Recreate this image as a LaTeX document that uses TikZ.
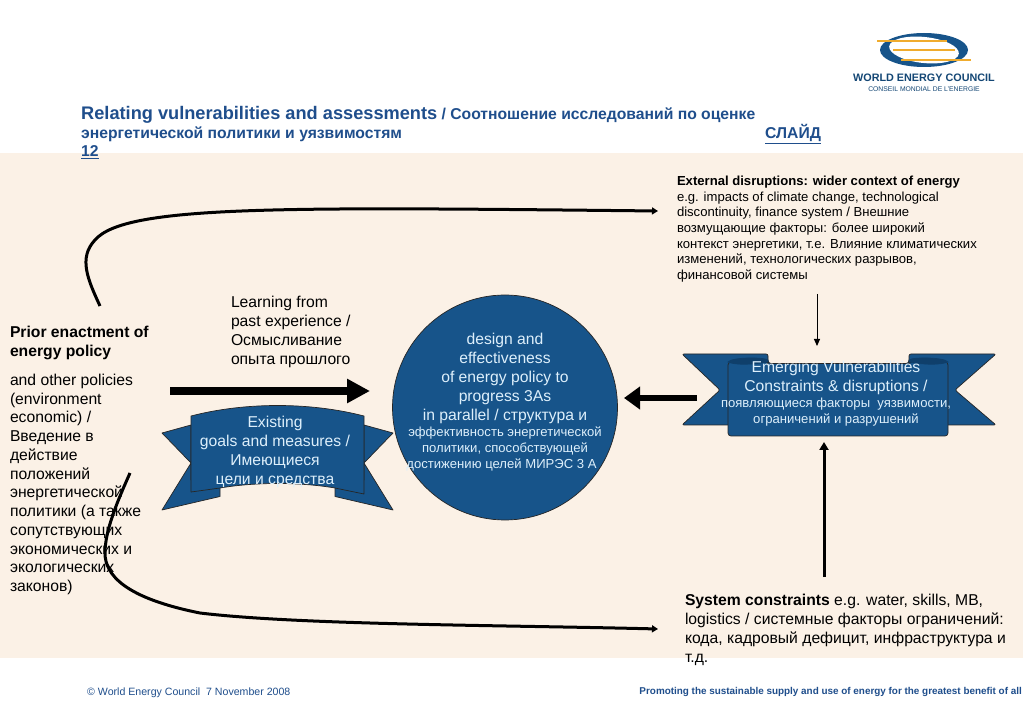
\documentclass[tikz,border=0pt]{standalone}
\usepackage{fontspec}
\setmainfont{Liberation Sans}
\usetikzlibrary{arrows.meta}
\definecolor{band}{HTML}{FBF1E6}
\definecolor{wec}{HTML}{17548A}
\definecolor{wecdark}{HTML}{0F3F6B}
\definecolor{pale}{HTML}{DDEFFB}
\definecolor{titleblue}{HTML}{1F4E8C}
\definecolor{wecorange}{HTML}{F0AC2E}
\tikzset{
  x=1pt,y=-1pt,
  txt/.style={inner sep=0pt,outer sep=0pt,align=left,anchor=north west,text=black},
  ribbontext/.style={inner sep=0pt,align=center,text=pale},
  ribbonpart/.style={draw=black!85,line width=0.7pt,fill=wec,line join=round},
  curl/.style={draw=wecdark,line width=0.7pt,fill=wecdark},
  titletext/.style={inner sep=0pt,anchor=base west,text=titleblue,font=\bfseries},
  curve/.style={line width=3pt,draw=black,-{Triangle[length=6pt,width=7pt]}},
}
\newcommand{\fs}[2]{\fontsize{#1}{#2}\selectfont}
\begin{document}
\begin{tikzpicture}
\useasboundingbox (0,0) rectangle (1023,708);
\fill[white] (0,0) rectangle (1023,708);
\fill[band] (0,153) rectangle (1023,658);

% logo
\fill[wec] (924,50) ellipse [x radius=44,y radius=17];
\fill[white,rotate around={-6:(924,50)}] (924,50) ellipse [x radius=35,y radius=13];
\foreach \ya/\xa/\xb in {41/877/947,50/893/955,60/901/971}
  \draw[wecorange,line width=1.1pt] (\xa,\ya) -- (\xb,\ya);
\node[inner sep=0pt,text=wec!85!black,font=\bfseries\fs{10.8}{12}] (logoa) at (924,77.5) {WORLD ENERGY COUNCIL};
\node[inner sep=0pt,text=wec!85!black,font=\fs{6.8}{8}] (logob) at (924,89) {CONSEIL MONDIAL DE L'ENERGIE};

% title
\node[titletext] (t1) at (81,120) {{\fs{18.2}{20}Relating vulnerabilities and assessments}{\fs{15.7}{18} / Соотношение исследований по оценке}};
\node[titletext] (t2) at (81,139) {\fs{15.7}{18}энергетической политики и уязвимостям};
\node[titletext] (t3) at (765,139) {\fs{15.7}{18}\underline{СЛАЙД}};
\node[titletext] (t4) at (81,157) {\fs{15.7}{18}\underline{12}};

% left text
\node[txt,font=\bfseries\fs{15.7}{19.5}] (prior) at (10,326) {Prior enactment of\\energy policy};
\node[txt,font=\fs{15.7}{18.75}] (other) at (10,374) {and other policies\\(environment\\economic) /\\Введение в\\действие\\положений\\энергетической\\политики (а также\\сопутствующих\\экономических и\\экологических\\законов)};

% learning text
\node[txt,font=\fs{15.7}{19}] (learn) at (231,296) {Learning from\\past experience /\\Осмысливание\\опыта прошлого};

% external text
\node[txt,font=\fs{13.1}{15.7}] (ext) at (677,176) {\textbf{External disruptions: wider context of energy}\\e.g. impacts of climate change, technological\\discontinuity, finance system / Внешние\\возмущающие факторы: более широкий\\контекст энергетики, т.е. Влияние климатических\\изменений, технологических разрывов,\\финансовой системы};

% system text
\node[txt,font=\fs{15.7}{19}] (sys) at (685,594) {\textbf{System constraints} e.g. water, skills, MB,\\logistics / системные факторы ограничений:\\кода, кадровый дефицит, инфраструктура и\\т.д.};

% circle
\node[circle,draw=black!85,line width=0.7pt,fill=wec,minimum size=225pt,inner sep=0pt] (core) at (505,407.5) {};
\node[ribbontext,font=\fs{15.7}{18.9}] (coretext) at (505,402.5) {design and\\effectiveness\\of energy policy to\\progress 3As\\in parallel / структура и\\[-2.5pt]{\fs{13.1}{16.5}эффективность энергетической}\\[-3pt]{\fs{13.1}{16.5}политики, способствующей}\\[-3pt]{\fs{13.1}{16.5}достижению целей МИРЭС 3 А\hspace*{7pt}}};

% left ribbon
\draw[ribbonpart] (191,425) -- (162,433) -- (191,463) -- (162,510) -- (220,496.5) -- (220,480) -- (191,480) -- cycle;
\draw[ribbonpart] (364,425) -- (393,433) -- (364,463) -- (393,510) -- (335,496.5) -- (335,480) -- (364,480) -- cycle;
\draw[ribbonpart] (191,416) .. controls (245,402) and (310,402) .. (364,416) -- (364,494) -- (335,488) .. controls (300,482) and (255,482) .. (220,488) -- (191,492) -- cycle;
\node[ribbontext,font=\fs{15.7}{19}] (existing) at (275,452) {Existing\\goals and measures /\\Имеющиеся\\цели и средства};

% right ribbon
\draw[ribbonpart,rounded corners=2pt] (768,362) -- (768,354) -- (682,354) -- (720,390) -- (682,425) -- (760,425) -- cycle;
\draw[ribbonpart,rounded corners=2pt] (909,362) -- (909,354) -- (996,354) -- (955,390) -- (996,425) -- (920,425) -- cycle;
\draw[ribbonpart,rounded corners=3pt] (728,362) -- (728,436) -- (948,436) -- (948,362) -- (909,362) -- (909,363.5) -- (768,363.5) -- (768,362) -- cycle;
\draw[curl] (728,362) .. controls (732,357) and (764,357) .. (768,360) -- (768,362) .. controls (750,365) and (735,365) .. (728,362) -- cycle;
\draw[curl] (948,362) .. controls (944,357) and (912,357) .. (909,360) -- (909,362) .. controls (925,365) and (940,365) .. (948,362) -- cycle;
\node[ribbontext,font=\fs{15.7}{19}] (emerging) at (836,378) {Emerging Vulnerabilities\\Constraints \& disruptions /};
\node[ribbontext,font=\fs{13.1}{15.5}] (emergingru) at (836,412) {появляющиеся факторы\ \ уязвимости,\\ограничений и разрушений};

% connectors
\coordinate (a1) at (170,391);
\coordinate (a2) at (370,391);
\draw[line width=8pt,-{Triangle[length=23pt,width=23pt]}] (a1) -- (a2);
\coordinate (b1) at (697,398);
\coordinate (b2) at (624,398);
\draw[line width=6pt,-{Triangle[length=16pt,width=22pt]}] (b1) -- (b2);
\coordinate (c1) at (817,294);
\coordinate (c2) at (817,346);
\draw[line width=1pt,-{Triangle[length=7pt,width=6pt]}] (c1) -- (c2);
\coordinate (d1) at (824,577);
\coordinate (d2) at (824,442);
\draw[line width=3pt,-{Triangle[length=8pt,width=9pt]}] (d1) -- (d2);
\coordinate (e1) at (100,306);
\coordinate (e2) at (658,211);
\draw[curve] (e1) .. controls (88,280) and (78,258) .. (95,240) .. controls (125,205) and (280,207) .. (e2);
\coordinate (f1) at (130,473);
\coordinate (f2) at (658,629);
\draw[curve] (f1) .. controls (118,500) and (105,530) .. (105,553) .. controls (105,575) and (125,598) .. (200,613) .. controls (300,625) and (500,625) .. (f2);

% footer
\node[inner sep=0pt,anchor=base west,text=titleblue,font=\fs{10.6}{12}] (foot1) at (87,695) {© World Energy Council\ \ 7 November 2008};
\node[inner sep=0pt,anchor=base east,text=titleblue,font=\bfseries\fs{9.9}{11}] (foot2) at (1022,694) {Promoting the sustainable supply and use of energy for the greatest benefit of all};
\end{tikzpicture}
\end{document}
